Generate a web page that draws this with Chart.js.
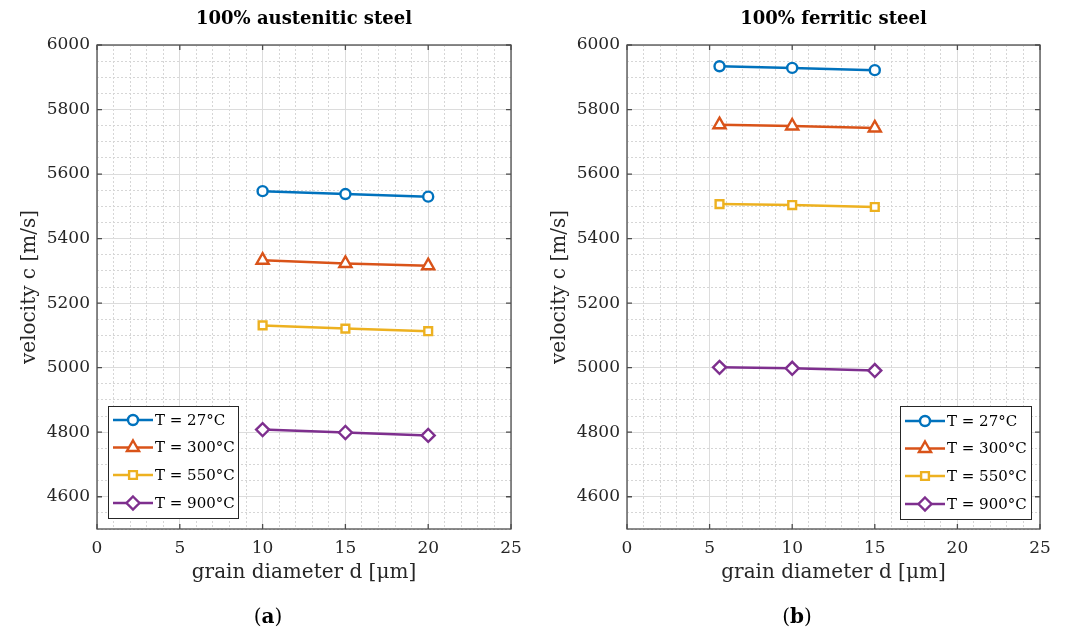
<!DOCTYPE html>
<html>
<head>
<meta charset="utf-8">
<script src="https://cdn.jsdelivr.net/npm/chart.js"></script>
<style>
html,body{margin:0;padding:0;background:#fff;}
#wrap{position:relative;width:1069px;height:635px;overflow:hidden;}
#c1{position:absolute;left:0;top:0;}
#c2{position:absolute;left:534px;top:0;}
.cap{position:absolute;top:604px;font-family:'DejaVu Serif',serif;font-size:20px;line-height:24px;color:#000;transform:translateX(-50%);white-space:nowrap;}
</style>
</head>
<body>
<div id="wrap">
<canvas id="c1" width="534" height="635"></canvas>
<canvas id="c2" width="535" height="635"></canvas>
<div class="cap" style="left:268px">(<b>a</b>)</div>
<div class="cap" style="left:797px">(<b>b</b>)</div>
</div>
<script>
// ---------------- data ----------------
const seriesLabels = ['T = 27°C', 'T = 300°C', 'T = 550°C', 'T = 900°C'];

const xAustenitic = [10, 15, 20];
const aust27  = [5547, 5538, 5530];
const aust300 = [5333, 5323, 5316];
const aust550 = [5131, 5121, 5113];
const aust900 = [4808, 4799, 4790];

const xFerritic = [5.6, 10, 15];
const ferr27  = [5934, 5929, 5922];
const ferr300 = [5753, 5749, 5743];
const ferr550 = [5507, 5504, 5498];
const ferr900 = [5001, 4998, 4991];

const xTicks = [0, 5, 10, 15, 20, 25];
const yTicks = [4600, 4800, 5000, 5200, 5400, 5600, 5800, 6000];

const titleA = '100% austenitic steel';
const titleB = '100% ferritic steel';
const xTitle = 'grain diameter d [μm]';
const yTitle = 'velocity c [m/s]';

// ---------------- styles ----------------
const COLORS = ['#0072BD', '#D95319', '#EDB120', '#7E2F8E'];
const STYLES = ['circle', 'triangle', 'rect', 'rectRot'];
const RADII  = [5, 7, 5.5, 6.5];
const FONT = "'DejaVu Serif', serif";
const TXT = '#262626';

function buildDatasets(xs, seriesList) {
  return seriesList.map((vals, k) => ({
    label: seriesLabels[k],
    data: xs.map((x, i) => ({ x: x, y: vals[i] })),
    borderColor: COLORS[k],
    backgroundColor: '#ffffff',
    pointBackgroundColor: '#ffffff',
    pointBorderColor: COLORS[k],
    pointStyle: STYLES[k],
    pointRadius: RADII[k],
    pointBorderWidth: 2.4,
    borderWidth: 2.5,
    tension: 0,
    fill: false
  }));
}

function drawMarker(ctx, style, x, y, r) {
  ctx.beginPath();
  if (style === 'circle') {
    ctx.arc(x, y, r, 0, Math.PI * 2);
  } else if (style === 'triangle') {
    ctx.moveTo(x, y - r);
    ctx.lineTo(x + r * 0.866, y + r * 0.5);
    ctx.lineTo(x - r * 0.866, y + r * 0.5);
    ctx.closePath();
  } else if (style === 'rect') {
    const s = r * Math.SQRT1_2;
    ctx.rect(x - s, y - s, 2 * s, 2 * s);
  } else {
    ctx.moveTo(x, y - r);
    ctx.lineTo(x + r, y);
    ctx.lineTo(x, y + r);
    ctx.lineTo(x - r, y);
    ctx.closePath();
  }
  ctx.fill();
  ctx.stroke();
}

const framePlugin = {
  id: 'frame',
  afterDatasetsDraw(chart) {
    const { ctx, chartArea: a, scales } = chart;
    ctx.save();
    ctx.strokeStyle = '#4d4d4d';
    ctx.lineWidth = 1.3;
    ctx.setLineDash([]);
    ctx.beginPath();
    xTicks.forEach(v => {
      const px = scales.x.getPixelForValue(v);
      ctx.moveTo(px, a.bottom); ctx.lineTo(px, a.bottom - 5);
      ctx.moveTo(px, a.top); ctx.lineTo(px, a.top + 5);
    });
    yTicks.forEach(v => {
      const py = scales.y.getPixelForValue(v);
      ctx.moveTo(a.left, py); ctx.lineTo(a.left + 5, py);
      ctx.moveTo(a.right, py); ctx.lineTo(a.right - 5, py);
    });
    ctx.stroke();
    ctx.strokeRect(a.left, a.top, a.right - a.left, a.bottom - a.top);
    ctx.restore();
  }
};

const boxLegendPlugin = {
  id: 'boxLegend',
  afterDraw(chart, args, opts) {
    const ctx = chart.ctx;
    const b = opts.box;
    ctx.save();
    ctx.fillStyle = '#ffffff';
    ctx.fillRect(b.x, b.y, b.w, b.h);
    ctx.strokeStyle = '#262626';
    ctx.lineWidth = 1;
    ctx.strokeRect(b.x + 0.5, b.y + 0.5, b.w, b.h);
    chart.data.datasets.forEach((ds, k) => {
      const y = opts.rows[k];
      ctx.strokeStyle = ds.borderColor;
      ctx.lineWidth = 2.5;
      ctx.beginPath();
      ctx.moveTo(opts.lineX1, y);
      ctx.lineTo(opts.lineX2, y);
      ctx.stroke();
      ctx.fillStyle = '#ffffff';
      ctx.lineWidth = 2.4;
      drawMarker(ctx, ds.pointStyle, (opts.lineX1 + opts.lineX2) / 2, y, ds.pointRadius);
      ctx.fillStyle = '#000000';
      ctx.font = '15px ' + FONT;
      ctx.textBaseline = 'middle';
      ctx.textAlign = 'left';
      ctx.fillText(ds.label, opts.textX, y + 1);
    });
    ctx.restore();
  }
};

function makeChart(id, title, xs, seriesList, cfg) {
  return new Chart(document.getElementById(id), {
    type: 'line',
    data: { datasets: buildDatasets(xs, seriesList) },
    options: {
      responsive: false,
      animation: false,
      devicePixelRatio: 1,
      layout: { padding: { left: 0, right: cfg.padRight, top: 0, bottom: 0 } },
      plugins: {
        legend: { display: false },
        tooltip: { enabled: false },
        title: {
          display: true, text: title, fullSize: false, color: '#000',
          font: { family: FONT, size: 18, weight: 'bold' },
          padding: { top: 9, bottom: 14.4 }
        },
        boxLegend: cfg.legend
      },
      scales: {
        x: {
          type: 'linear', min: 0, max: 25,
          afterFit: s => { s.height = 106; },
          ticks: {
            stepSize: 1, maxTicksLimit: 100, autoSkip: false, maxRotation: 0,
            callback: v => xTicks.includes(v) ? String(v) : '',
            padding: 9, color: TXT, font: { family: FONT, size: 17 }
          },
          grid: {
            drawTicks: false, lineWidth: 1,
            color: c => (c.tick && c.tick.value % 5 === 0) ? '#dcdcdc' : '#d6d6d6'
          },
          border: {
            display: false,
            dash: c => (c.tick && c.tick.value % 5 !== 0) ? [2, 2] : []
          },
          title: {
            display: true, text: xTitle, color: TXT,
            font: { family: FONT, size: 20 },
            padding: { top: 0, bottom: 50 }
          }
        },
        y: {
          type: 'linear', min: 4500, max: 6000,
          afterFit: s => { s.width = cfg.yWidth; },
          ticks: {
            stepSize: 50, maxTicksLimit: 100, autoSkip: false,
            callback: v => yTicks.includes(v) ? String(v) : '',
            padding: 7, color: TXT, font: { family: FONT, size: 17 }
          },
          grid: {
            drawTicks: false, lineWidth: 1,
            color: c => (c.tick && c.tick.value % 200 === 0) ? '#dcdcdc' : '#d6d6d6'
          },
          border: {
            display: false,
            dash: c => (c.tick && c.tick.value % 200 !== 0) ? [2, 2] : []
          },
          title: {
            display: true, text: yTitle, color: TXT,
            font: { family: FONT, size: 20 },
            padding: { top: cfg.yTitlePad, bottom: 0 }
          }
        }
      }
    },
    plugins: [framePlugin, boxLegendPlugin]
  });
}

makeChart('c1', titleA, xAustenitic, [aust27, aust300, aust550, aust900], {
  padRight: 23, yWidth: 97, yTitlePad: 18,
  legend: { box: { x: 108, y: 406, w: 130, h: 112 }, rows: [420, 447.5, 475, 503], lineX1: 113, lineX2: 153, textX: 155 }
});

makeChart('c2', titleB, xFerritic, [ferr27, ferr300, ferr550, ferr900], {
  padRight: 29, yWidth: 93, yTitlePad: 14,
  legend: { box: { x: 366, y: 406, w: 131, h: 113 }, rows: [421, 448.5, 476, 504], lineX1: 371, lineX2: 411, textX: 413 }
});
</script>
</body>
</html>
